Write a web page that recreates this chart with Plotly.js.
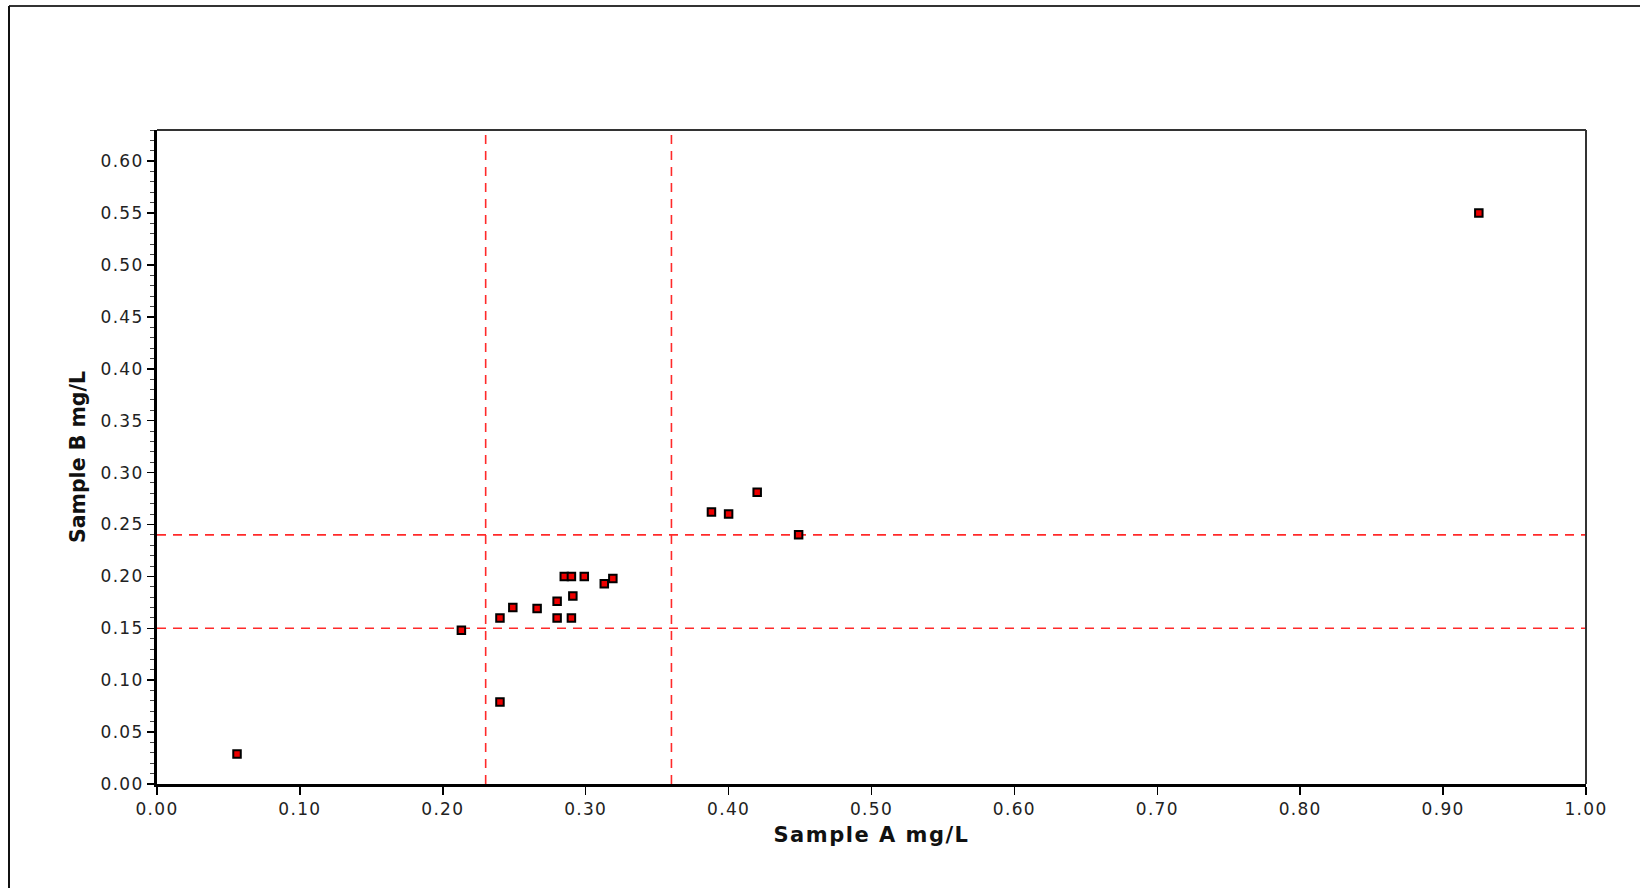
<!DOCTYPE html>
<html>
<head>
<meta charset="utf-8">
<script src="https://cdn.plot.ly/plotly-3.0.1.min.js"></script>
<style>
  html, body { margin: 0; padding: 0; background: #fff; }
  #chart { width: 1640px; height: 888px; }
  .xtick text, .ytick text { letter-spacing: 1.3px; }
  .g-xtitle text { letter-spacing: 1.5px; }
</style>
</head>
<body>
<div id="chart"></div>
<script>
// Data
const sampleA = [0.213, 0.240, 0.249, 0.266, 0.280, 0.280, 0.290, 0.291, 0.285, 0.290,
                 0.299, 0.313, 0.319, 0.240, 0.388, 0.400, 0.420, 0.449, 0.925, 0.056];
const sampleB = [0.148, 0.160, 0.170, 0.169, 0.176, 0.160, 0.160, 0.181, 0.200, 0.200,
                 0.200, 0.193, 0.198, 0.079, 0.262, 0.260, 0.281, 0.240, 0.550, 0.029];
// Reference (limit) lines
const limitsA = [0.23, 0.36];
const limitsB = [0.15, 0.24];
const xTickVals = [0, 0.1, 0.2, 0.3, 0.4, 0.5, 0.6, 0.7, 0.8, 0.9, 1.0];
const yTickVals = [0, 0.05, 0.1, 0.15, 0.2, 0.25, 0.3, 0.35, 0.4, 0.45, 0.5, 0.55, 0.6];
const xTitle = 'Sample A mg/L';
const yTitle = 'Sample B mg/L';

const W = 1640, H = 888;
const M = {l: 157, r: 54, t: 130, b: 104};
const pw = W - M.l - M.r, ph = H - M.t - M.b;
const px = v => (v - M.l) / pw;          // pixel -> paper x
const py = v => (H - M.b - v) / ph;      // pixel -> paper y

const dashLine = {color: '#ff2a2a', width: 1.6, dash: '9px,7px'};
const shapes = [];
limitsA.forEach(a => shapes.push({type: 'line', xref: 'x', yref: 'paper', x0: a, x1: a, y0: 0, y1: 1, line: dashLine, layer: 'below'}));
limitsB.forEach(b => shapes.push({type: 'line', xref: 'paper', yref: 'y', x0: 0, x1: 1, y0: b, y1: b, line: dashLine, layer: 'below'}));
// thin top and right plot borders
shapes.push({type: 'line', xref: 'paper', yref: 'paper', x0: 0, x1: 1, y0: 1, y1: 1, line: {color: '#333', width: 2}});
shapes.push({type: 'line', xref: 'paper', yref: 'paper', x0: 1, x1: 1, y0: 0, y1: 1, line: {color: '#333', width: 2}});
// outer frame (top and left edges)
shapes.push({type: 'line', xref: 'paper', yref: 'paper', x0: px(9), x1: px(1700), y0: py(6), y1: py(6), line: {color: '#333', width: 2}});
shapes.push({type: 'line', xref: 'paper', yref: 'paper', x0: px(9), x1: px(9), y0: py(6), y1: py(950), line: {color: '#111', width: 2}});

const trace = {
  type: 'scatter', mode: 'markers', x: sampleA, y: sampleB,
  marker: {symbol: 'square', size: 7.5, color: '#ee0000', line: {color: '#000', width: 2}},
  hoverinfo: 'x+y', showlegend: false, cliponaxis: false
};

const tickFont = {family: 'DejaVu Sans, Arial, sans-serif', size: 17, color: '#222'};
const layout = {
  width: W, height: H, margin: M,
  paper_bgcolor: '#fff', plot_bgcolor: '#fff',
  showlegend: false,
  xaxis: {
    range: [0, 1], tickvals: xTickVals, tickformat: '.2f',
    showgrid: false, zeroline: false,
    showline: true, linecolor: '#000', linewidth: 3,
    ticks: 'outside', ticklen: 8, tickwidth: 1.5, tickcolor: '#000',
    ticklabelstandoff: 0,
    tickfont: tickFont,
    title: {text: xTitle, standoff: 9, font: {family: 'DejaVu Sans, Arial, sans-serif', size: 21, color: '#111', weight: 'bold'}}
  },
  yaxis: {
    range: [0, 0.630], tickvals: yTickVals, tickformat: '.2f',
    showgrid: false, zeroline: false,
    showline: true, linecolor: '#000', linewidth: 3,
    ticks: 'outside', ticklen: 7, tickwidth: 1.5, tickcolor: '#000',
    tickfont: tickFont,
    minor: {dtick: 0.01, ticks: 'outside', ticklen: 4, tickwidth: 1, tickcolor: '#444', showgrid: false},
    title: {text: yTitle, standoff: 10, font: {family: 'DejaVu Sans, Arial, sans-serif', size: 20.5, color: '#111', weight: 'bold'}}
  },
  shapes: shapes
};

Plotly.newPlot('chart', [trace], layout, {staticPlot: true, displayModeBar: false});
</script>
</body>
</html>
